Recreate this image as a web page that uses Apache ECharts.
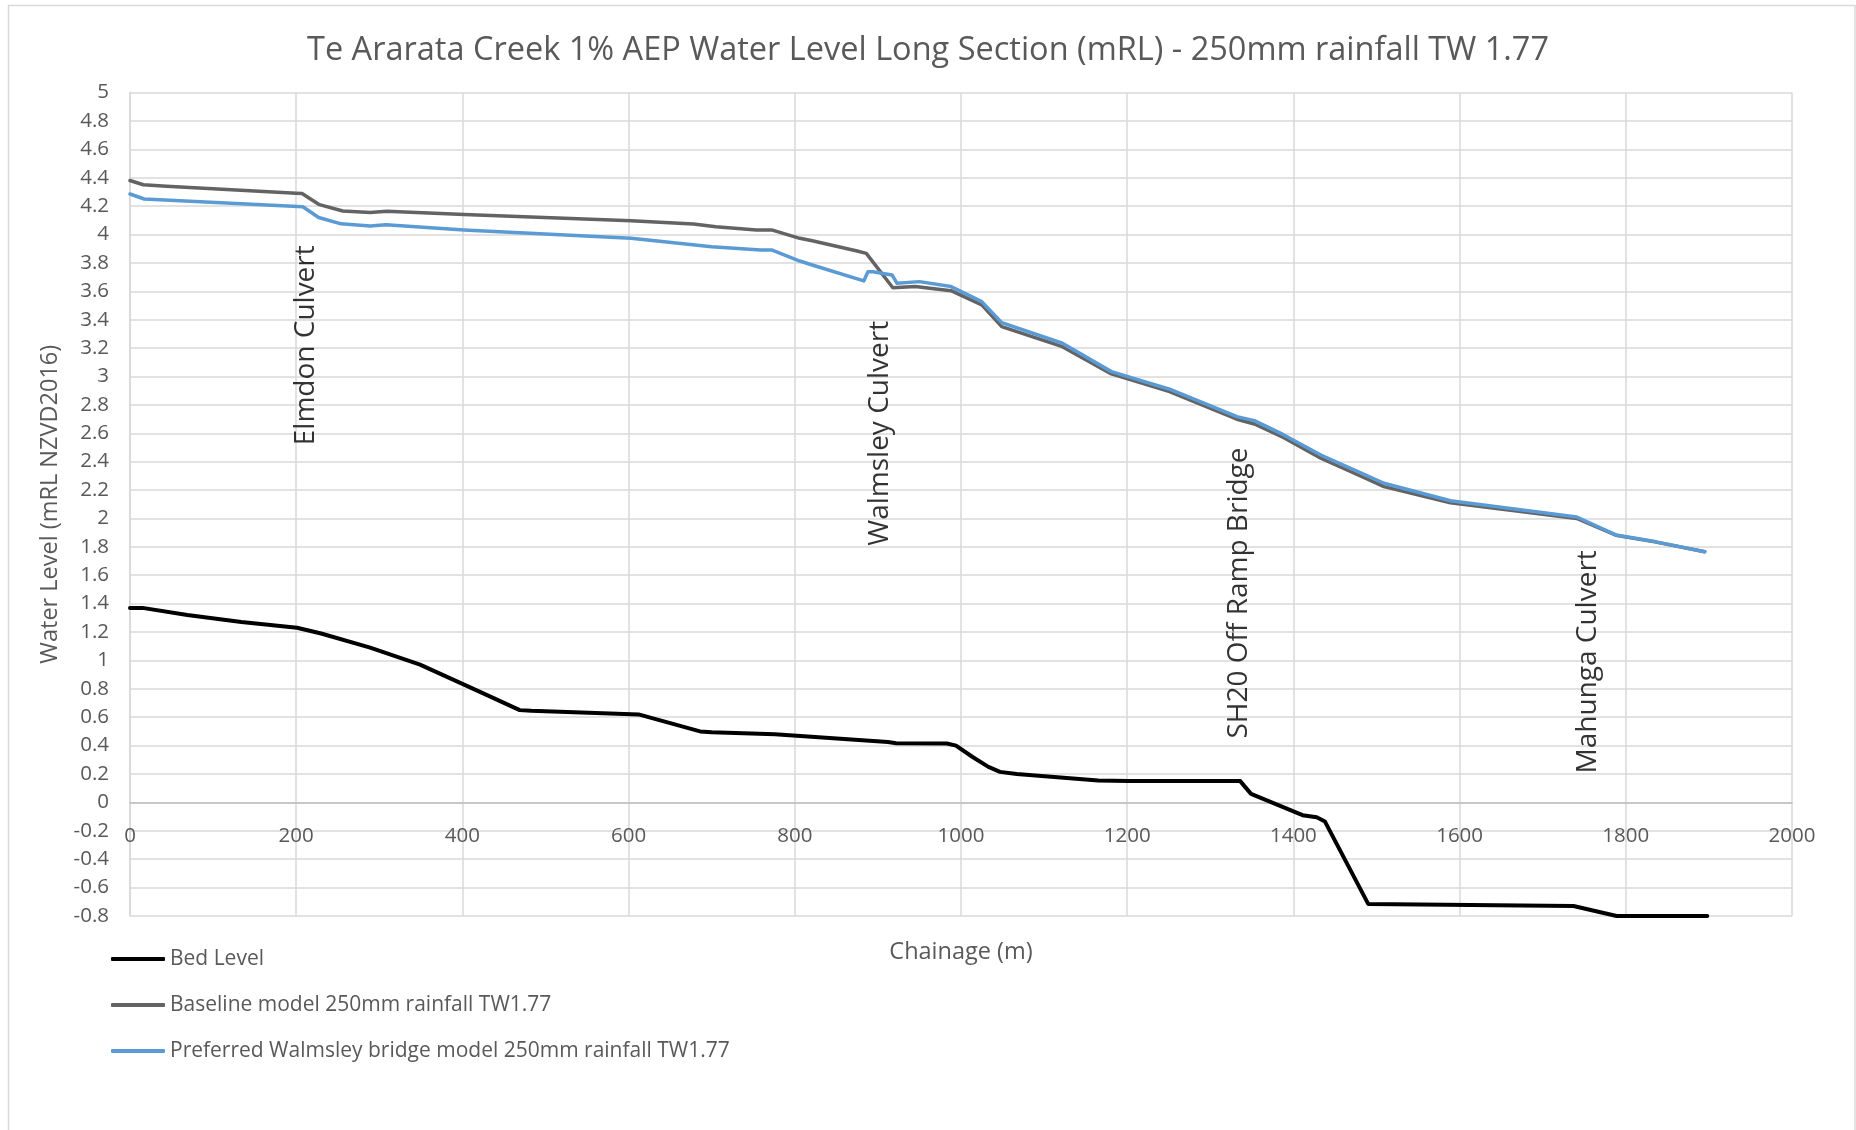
<!DOCTYPE html>
<html>
<head>
<meta charset="utf-8">
<script src="https://cdn.jsdelivr.net/npm/echarts@6/dist/echarts.min.js"></script>
<style>
html,body{margin:0;padding:0;background:#fff;}
#chart{width:1856px;height:1130px;}
</style>
</head>
<body>
<div id="chart"></div>
<script>
// Chainage (m) and levels (mRL)
const bedX = [0, 15, 69, 134, 201, 230, 289, 349, 402, 429, 469, 483, 612, 686, 700, 776, 912, 922, 983, 994, 1014, 1033, 1047, 1067, 1165, 1201, 1336, 1349, 1411, 1428, 1438, 1490, 1737, 1789, 1898];
const bedY = [1.37, 1.37, 1.32, 1.27, 1.23, 1.19, 1.09, 0.97, 0.83, 0.757, 0.65, 0.645, 0.62, 0.50, 0.495, 0.48, 0.425, 0.417, 0.415, 0.40, 0.32, 0.25, 0.215, 0.20, 0.155, 0.15, 0.15, 0.06, -0.09, -0.105, -0.135, -0.715, -0.73, -0.80, -0.80];

const baseX = [0, 16, 44, 200, 207, 228, 256, 289, 309, 402, 603, 678, 705, 754, 772, 806, 821, 875, 886, 918, 945, 988, 1025, 1049, 1122, 1181, 1251, 1332, 1353, 1388, 1433, 1486, 1509, 1589, 1741, 1788, 1835, 1895];
const baseY = [4.38, 4.35, 4.34, 4.29, 4.288, 4.21, 4.165, 4.155, 4.163, 4.14, 4.097, 4.074, 4.055, 4.032, 4.032, 3.973, 3.956, 3.884, 3.867, 3.625, 3.633, 3.604, 3.504, 3.351, 3.21, 3.018, 2.893, 2.699, 2.665, 2.57, 2.424, 2.285, 2.224, 2.111, 2.0, 1.882, 1.835, 1.766];

const prefX = [0, 17, 208, 227, 254, 289, 308, 402, 603, 700, 759, 772, 806, 821, 883, 888, 894, 917, 923, 950, 988, 1025, 1049, 1122, 1181, 1251, 1332, 1353, 1388, 1433, 1487, 1509, 1589, 1741, 1788, 1835, 1895];
const prefY = [4.285, 4.25, 4.195, 4.12, 4.075, 4.06, 4.069, 4.032, 3.973, 3.914, 3.891, 3.891, 3.813, 3.785, 3.673, 3.738, 3.738, 3.715, 3.656, 3.668, 3.633, 3.527, 3.379, 3.234, 3.034, 2.91, 2.717, 2.689, 2.59, 2.447, 2.306, 2.248, 2.125, 2.01, 1.884, 1.837, 1.766];

const seriesNames = ['Bed Level', 'Baseline model 250mm rainfall TW1.77', 'Preferred Walmsley bridge model 250mm rainfall TW1.77'];

const annoNames = ['Elmdon Culvert', 'Walmsley Culvert', 'SH20 Off Ramp Bridge', 'Mahunga Culvert'];
const annoX = [212, 902, 1334, 1755];
const annoY = [3.22, 2.60, 1.475, 0.99];

const xTicks = {min: 0, max: 2000, interval: 200};
const yTicks = {min: -0.8, max: 5, interval: 0.2};

const zip = (xs, ys) => xs.map((x, i) => [x, ys[i]]);
const FONT = '"Open Sans", "Noto Sans", sans-serif';
const GREY = '#595959';
const GRID = '#d9d9d9';

const W = 1856, H = 1130;
const gridBox = {left: 130, right: 64, top: 92.5, bottom: 214};
const plotH = H - gridBox.top - gridBox.bottom;
// the horizontal axis sits on y = 0, as in the spreadsheet chart
const zeroOffset = -plotH * (0 - yTicks.min) / (yTicks.max - yTicks.min);

const chart = echarts.init(document.getElementById('chart'), null, {renderer: 'canvas', width: W, height: H});
chart.setOption({
  backgroundColor: '#fff',
  animation: false,
  graphic: [{
    type: 'rect', silent: true, z: -10,
    shape: {x: 8.5, y: 5.5, width: 1846.5, height: 1140},
    style: {fill: 'none', stroke: GRID, lineWidth: 1.5}
  }],
  title: {
    text: 'Te Ararata Creek 1% AEP Water Level Long Section (mRL) - 250mm rainfall TW 1.77',
    left: 'center', top: 29,
    textStyle: {fontFamily: FONT, fontSize: 32.5, fontWeight: 'normal', color: GREY}
  },
  grid: Object.assign({containLabel: false}, gridBox),
  legend: {
    orient: 'vertical', left: 111, top: 947, padding: 0,
    data: seriesNames,
    icon: 'roundRect', itemWidth: 54, itemHeight: 4, itemGap: 22,
    textStyle: {fontFamily: FONT, fontSize: 21, color: GREY, lineHeight: 24}
  },
  xAxis: {
    type: 'value', min: xTicks.min, max: xTicks.max, interval: xTicks.interval,
    position: 'bottom', offset: zeroOffset,
    name: 'Chainage (m)', nameLocation: 'middle', nameGap: 138,
    nameTextStyle: {fontFamily: FONT, fontSize: 23.5, color: GREY},
    axisLine: {show: true, onZero: false, lineStyle: {color: '#bfbfbf', width: 1.5}},
    axisTick: {show: false},
    axisLabel: {fontFamily: FONT, fontSize: 20.5, color: GREY, margin: 23,
      formatter: v => String(v)},
    splitLine: {show: true, lineStyle: {color: GRID, width: 1.5}}
  },
  yAxis: {
    type: 'value', min: yTicks.min, max: yTicks.max, interval: yTicks.interval,
    name: 'Water Level (mRL NZVD2016)', nameLocation: 'middle', nameGap: 68,
    nameTextStyle: {fontFamily: FONT, fontSize: 23.5, color: GREY},
    axisLine: {show: true, lineStyle: {color: GRID, width: 1.5}},
    axisTick: {show: false},
    axisLabel: {fontFamily: FONT, fontSize: 20.5, color: GREY, margin: 21,
      formatter: v => String(Math.round(v * 10) / 10)},
    splitLine: {show: true, lineStyle: {color: GRID, width: 1.5}}
  },
  series: [
    {name: seriesNames[0], type: 'line', data: zip(bedX, bedY), showSymbol: false, symbol: 'none',
     color: '#000000', lineStyle: {width: 4, color: '#000000', cap: 'round', join: 'round'}, z: 3},
    {name: seriesNames[1], type: 'line', data: zip(baseX, baseY), showSymbol: false, symbol: 'none',
     color: '#636363', lineStyle: {width: 3.5, color: '#636363', cap: 'round', join: 'round'}, z: 4},
    {name: seriesNames[2], type: 'line', data: zip(prefX, prefY), showSymbol: false, symbol: 'none',
     color: '#5b9bd5', lineStyle: {width: 3.5, color: '#5b9bd5', cap: 'round', join: 'round'}, z: 5},
    {name: 'annotations', type: 'scatter', symbolSize: 0, silent: true, z: 6,
     data: annoNames.map((n, i) => ({name: n, value: [annoX[i], annoY[i]]})),
     label: {show: true, position: 'inside', rotate: 90, formatter: '{b}',
       fontFamily: FONT, fontSize: 28, color: '#000000'}}
  ]
});
</script>
</body>
</html>
